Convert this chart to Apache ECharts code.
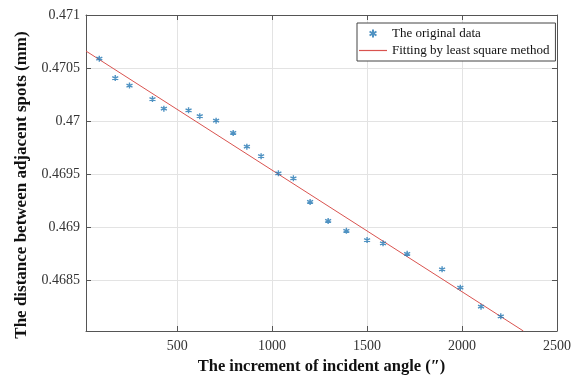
<!DOCTYPE html>
<html>
<head>
<meta charset="utf-8">
<script src="https://cdn.jsdelivr.net/npm/echarts@6/dist/echarts.min.js"></script>
<style>
  html, body { margin: 0; padding: 0; background: #fff; }
  #chart { width: 581px; height: 380px; }
</style>
</head>
<body>
<div id="chart"></div>
<script>
// measured points (x: angle increment, y: spot distance in mm)
const incAngle = [90, 174, 249, 370, 430, 560, 619, 705, 795, 867, 942, 1033, 1112, 1200, 1295, 1391, 1500, 1584, 1711, 1895, 1991, 2100, 2204];
const spotDist = [0.470588, 0.470405, 0.470334, 0.470207, 0.470117, 0.470101, 0.470046, 0.470003, 0.469888, 0.469758, 0.469668, 0.469507, 0.469460, 0.469237, 0.469058, 0.468965, 0.468878, 0.468847, 0.468748, 0.468602, 0.468428, 0.468249, 0.468159];

// least-squares line, ends
const fitX = [20, 2323];
const fitY = [0.47066, 0.46802];

const xTicks = [500, 1000, 1500, 2000, 2500];
const yTicks = [0.4685, 0.469, 0.4695, 0.47, 0.4705, 0.471];

const FONT = '"Liberation Serif", "Times New Roman", serif';
const AXIS_COLOR = '#555';
const GRID_COLOR = '#e3e3e3';

const asterisk = 'path://M5,0L5,10M0.67,2.5L9.33,7.5M0.67,7.5L9.33,2.5';
const dash = 'path://M0,0H28V1.2H0Z';

const chart = echarts.init(document.getElementById('chart'));

const xBase = {
  type: 'value', min: 20, max: 2500,
  axisLine: { show: true, onZero: false, lineStyle: { color: AXIS_COLOR } },
  axisTick: { show: true, inside: true, length: 5, customValues: xTicks, lineStyle: { color: AXIS_COLOR } },
  splitLine: { show: false }
};
const yBase = {
  type: 'value', min: 0.46802, max: 0.471,
  axisLine: { show: true, onZero: false, lineStyle: { color: AXIS_COLOR } },
  axisTick: { show: true, inside: true, length: 5, customValues: yTicks, lineStyle: { color: AXIS_COLOR } },
  splitLine: { show: false }
};

chart.setOption({
  animation: false,
  grid: { left: 86, right: 24, top: 15, bottom: 44 },
  legend: {
    orient: 'vertical',
    left: 357, top: 23,
    itemWidth: 28, itemHeight: 8, itemGap: 4,
    padding: [4, 6, 4, 2],
    borderColor: '#444', borderWidth: 1,
    backgroundColor: '#fff',
    symbolKeepAspect: true,
    textStyle: { fontFamily: FONT, fontSize: 13, color: '#111' },
    data: [
      { name: 'The original data', icon: asterisk },
      { name: 'Fitting by least square method', icon: dash }
    ]
  },
  xAxis: [
    Object.assign({}, xBase, {
      position: 'bottom',
      name: 'The increment of incident angle (\u2033)',
      nameLocation: 'middle', nameGap: 27,
      nameTextStyle: { fontFamily: FONT, fontSize: 16.5, fontWeight: 'bold', color: '#111' },
      axisLabel: { customValues: xTicks, fontFamily: FONT, fontSize: 14, color: '#333', margin: 8, formatter: v => String(v) },
      splitLine: { show: true, lineStyle: { color: GRID_COLOR } }
    }),
    Object.assign({}, xBase, { position: 'top', axisLabel: { show: false } })
  ],
  yAxis: [
    Object.assign({}, yBase, {
      position: 'left',
      name: 'The distance between adjacent spots (mm)',
      nameLocation: 'middle', nameGap: 56,
      nameTextStyle: { fontFamily: FONT, fontSize: 17, fontWeight: 'bold', color: '#111', padding: [0, 24, 0, 0] },
      axisLabel: {
        customValues: yTicks, fontFamily: FONT, fontSize: 14, color: '#333', margin: 6,
        formatter: v => String(+v.toFixed(4))
      },
      splitLine: { show: true, lineStyle: { color: GRID_COLOR } }
    }),
    Object.assign({}, yBase, { position: 'right', axisLabel: { show: false } })
  ],
  series: [
    {
      name: 'Fitting by least square method',
      type: 'line',
      data: fitX.map((x, i) => [x, fitY[i]]),
      symbol: 'none',
      lineStyle: { color: '#d9534f', width: 1 },
      itemStyle: { color: '#d9534f' },
      clip: true,
      z: 2
    },
    {
      name: 'The original data',
      type: 'scatter',
      data: incAngle.map((x, i) => [x, spotDist[i]]),
      symbol: asterisk,
      symbolSize: 6,
      itemStyle: { color: 'none', borderColor: '#2377b3', borderWidth: 1.4 },
      z: 3
    }
  ]
});
</script>
</body>
</html>
